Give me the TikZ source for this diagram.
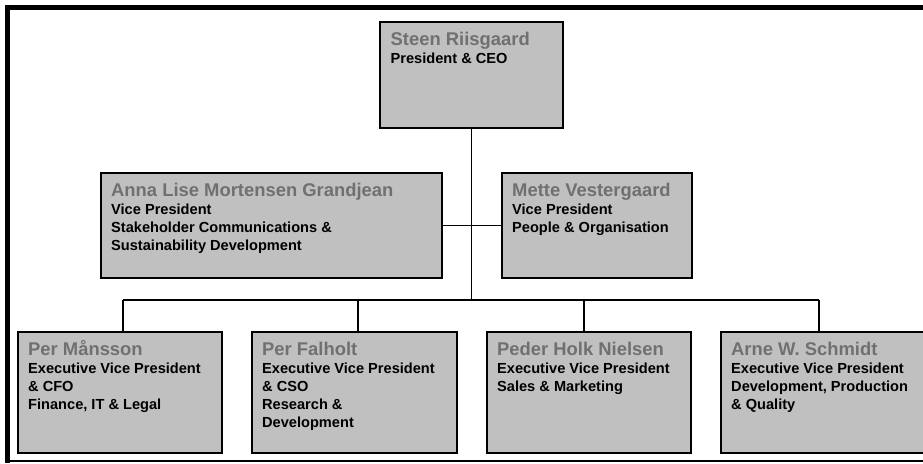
\documentclass[tikz,border=0pt]{standalone}
\usepackage{fontspec}
\setmainfont{Liberation Sans}
\usetikzlibrary{calc}
\definecolor{boxgray}{HTML}{C0C0C0}
\definecolor{namegray}{HTML}{707070}
\newcommand{\orgtext}[2]{\parbox[t]{320pt}{\leavevmode\bfseries\fontsize{18.4}{18}\selectfont\color{namegray}#1\par\color{black}\fontsize{14.6}{18}\selectfont #2}}
\tikzset{
  orgbox/.style={draw=black, line width=1.6pt, fill=boxgray, inner sep=0pt, anchor=north west},
  orgtxt/.style={anchor=base west, inner sep=0pt},
  conn/.style={draw=black, line width=1.5pt},
  frame/.style={draw=black}
}
\begin{document}
\begin{tikzpicture}[x=1pt, y=-1pt]
\clip (0,0) rectangle (923,463);
\fill[white] (0,0) rectangle (923,463);
% frame
\draw[frame, line width=5pt] (5,7.5) -- (923,7.5);
\draw[frame, line width=5pt] (7.5,5) -- (7.5,463);
\draw[frame, line width=1.5pt] (10,461) -- (923,461);
% boxes
\node[orgbox, minimum width=183pt, minimum height=106pt] (ceo) at (379,21) {};
\node[orgbox, minimum width=341pt, minimum height=105pt] (anna) at (100,172) {};
\node[orgbox, minimum width=190pt, minimum height=105pt] (mette) at (501,172) {};
\node[orgbox, minimum width=204pt, minimum height=121pt] (b1) at (17,331) {};
\node[orgbox, minimum width=205pt, minimum height=121pt] (b2) at (251,331) {};
\node[orgbox, minimum width=204pt, minimum height=121pt] (b3) at (486,331) {};
\node[orgbox, minimum width=204pt, minimum height=121pt] (b4) at (720,331) {};
% texts
\node[orgtxt] (ceot) at ($(ceo.north west)+(11.5,24)$) {\orgtext{Steen Riisgaard}{President \& CEO}};
\node[orgtxt] (annat) at ($(anna.north west)+(11,24)$) {\orgtext{Anna Lise Mortensen Grandjean}{Vice President\\Stakeholder Communications \&\\Sustainability Development}};
\node[orgtxt] (mettet) at ($(mette.north west)+(11,24)$) {\orgtext{Mette Vestergaard}{Vice President\\People \& Organisation}};
\node[orgtxt] (b1t) at ($(b1.north west)+(11,24)$) {\orgtext{Per Månsson}{Executive Vice President\\\& CFO\\Finance, IT \& Legal}};
\node[orgtxt] (b2t) at ($(b2.north west)+(11,24)$) {\orgtext{Per Falholt}{Executive Vice President\\\& CSO\\Research \&\\Development}};
\node[orgtxt] (b3t) at ($(b3.north west)+(11,24)$) {\orgtext{Peder Holk Nielsen}{Executive Vice President\\Sales \& Marketing}};
\node[orgtxt] (b4t) at ($(b4.north west)+(11,24)$) {\orgtext{Arne W. Schmidt}{Executive Vice President\\Development, Production\\\& Quality}};
% connectors
\coordinate (j1) at (123,300);
\coordinate (j2) at (358,300);
\coordinate (j3) at (584,300);
\coordinate (j4) at (819,300);
\draw[conn] (ceo.south) -- (ceo.south |- j1);
\draw[conn] (anna.east) -- (mette.west);
\draw[conn] (j1) -- (j4);
\draw[conn] (j1) -- (j1 |- b1.north);
\draw[conn] (j2) -- (j2 |- b2.north);
\draw[conn] (j3) -- (j3 |- b3.north);
\draw[conn] (j4) -- (j4 |- b4.north);
\end{tikzpicture}
\end{document}
